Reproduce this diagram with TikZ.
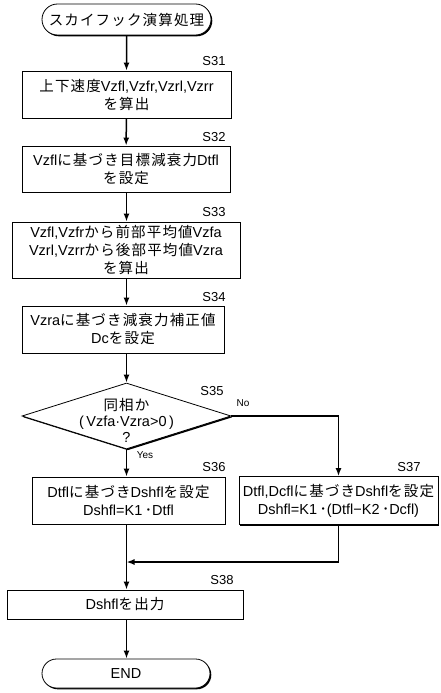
\documentclass[tikz,border=0pt]{standalone}
\usepackage{fontspec}
\setmainfont{Liberation Sans}
\newfontfamily\jpfont{Noto Sans CJK JP}[LetterSpace=8]
\newcommand\jp[1]{{\jpfont #1}}
\usetikzlibrary{arrows.meta,shapes.misc,shapes.geometric,shadows}

\tikzset{
  boxshadow/.style={drop shadow={shadow xshift=1.3pt, shadow yshift=-1.3pt, fill=black, opacity=1}},
  process/.style={draw, line width=0.8pt, fill=white, boxshadow, inner sep=2pt, align=center,
    font=\fontsize{14.5}{18}\selectfont},
  terminal/.style={process, rounded rectangle},
  decision/.style={draw, line width=0.8pt, fill=white, boxshadow, diamond, inner sep=0pt,
    font=\fontsize{14.5}{16}\selectfont},
  steplbl/.style={font=\fontsize{13}{13}\selectfont, inner sep=0pt},
  answer/.style={font=\fontsize{10}{10}\selectfont, inner sep=0pt},
  flow/.style={-{Latex[length=8pt,width=6pt]}, line width=1.5pt}
}

\begin{document}
\begin{tikzpicture}[x=1pt, y=-1pt]
	\useasboundingbox (0,0) rectangle (440,693);
	% nodes
	\node[terminal, minimum width=173pt, minimum height=31pt] (start) at (126.5,19.5) {\jp{スカイフック演算処理}};
	\node[process, minimum width=209pt, minimum height=47pt] (s31) at (126.5,94.5)
		{\jp{上下速度}Vzfl,Vzfr,Vzrl,Vzrr\\\jp{を算出}};
	\node[process, minimum width=208pt, minimum height=46pt] (s32) at (126,169)
		{Vzfl\jp{に基づき目標減衰力}Dtfl\\\jp{を設定}};
	\node[process, minimum width=228pt, minimum height=56pt] (s33) at (126,250)
		{Vzfl,Vzfr\jp{から前部平均値}Vzfa\\Vzrl,Vzrr\jp{から後部平均値}Vzra\\\jp{を算出}};
	\node[process, minimum width=202pt, minimum height=47pt] (s34) at (123,329.5)
		{Vzra\jp{に基づき減衰力補正値}\\Dc\jp{を設定}};
	\node[decision, minimum width=209pt, minimum height=66pt, aspect=3.17] (s35) at (126.5,416)
		{\smash{\raisebox{-10.5pt}{\begin{tabular}{@{}c@{}}\jp{同相か}\\(\,Vzfa·Vzra>0\,)\\?\end{tabular}}}};
	\node[process, minimum width=193pt, minimum height=47pt] (s36) at (128.5,500.5)
		{Dtfl\jp{に基づき}Dshfl\jp{を設定}\\Dshfl=K1\,\jp{･}Dtfl};
	\node[process, minimum width=199pt, minimum height=48pt] (s37) at (338.5,500.5)
		{Dtfl,Dcfl\jp{に基づき}Dshfl\jp{を設定}\\Dshfl=K1\,\jp{･}(Dtfl−K2\,\jp{･}Dcfl)};
	\node[process, minimum width=236pt, minimum height=29pt] (s38) at (125,604.5)
		{Dshfl\jp{を出力}};
	\node[terminal, minimum width=172pt, minimum height=29pt] (end) at (126,673.5) {END};
	\coordinate (join) at (126.5,562);

	% step labels
	\node[steplbl] (l31) at (214,61) {S31};
	\node[steplbl] (l32) at (214,137) {S32};
	\node[steplbl] (l33) at (214,212) {S33};
	\node[steplbl] (l34) at (214,297) {S34};
	\node[steplbl] (l35) at (212,391) {S35};
	\node[answer] (lno) at (243,403) {No};
	\node[answer] (lyes) at (145,455) {Yes};
	\node[steplbl] (l36) at (214,467) {S36};
	\node[steplbl] (l37) at (409,467) {S37};
	\node[steplbl] (l38) at (222,580) {S38};

	% connectors
	\draw[flow] (start) -- (s31);
	\draw[flow] (s31) -- (s32);
	\draw[flow] (s32.south -| s35) -- (s35 |- s33.north);
	\draw[flow] (s33.south -| s35) -- (s35 |- s34.north);
	\draw[flow] (s35 |- s34.south) -- (s35.north);
	\draw[flow] (s35.east) -| (s37.north);
	\draw[flow] (s35.south) -- (s35 |- s36.north);
	\draw[flow] (s35 |- s36.south) -- (s35 |- s38.north);
	\draw[flow] (s37.south) |- (join);
	\draw[flow] (s35 |- s38.south) -- (s35 |- end.north);
\end{tikzpicture}
\end{document}
